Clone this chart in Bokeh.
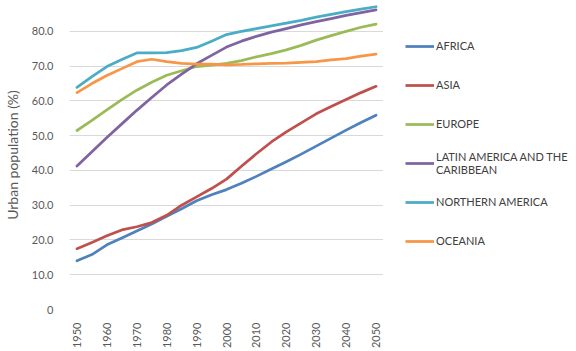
import math
from bokeh.plotting import figure
from bokeh.layouts import row
from bokeh.models import Legend, LegendItem, Range1d, FixedTicker
from bokeh.embed import file_html
from bokeh.resources import INLINE

years = [1950, 1955, 1960, 1965, 1970, 1975, 1980, 1985, 1990, 1995, 2000,
         2005, 2010, 2015, 2020, 2025, 2030, 2035, 2040, 2045, 2050]

africa = [14.0, 15.8, 18.6, 20.6, 22.6, 24.6, 26.8, 29.0, 31.3, 33.0, 34.5,
          36.3, 38.3, 40.4, 42.5, 44.7, 47.0, 49.3, 51.6, 53.8, 55.9]
asia = [17.5, 19.3, 21.2, 22.9, 23.8, 25.0, 27.1, 30.0, 32.4, 34.8, 37.5,
        41.2, 44.8, 48.2, 51.1, 53.7, 56.3, 58.4, 60.4, 62.4, 64.2]
europe = [51.5, 54.4, 57.4, 60.4, 63.1, 65.4, 67.4, 68.7, 69.9, 70.3, 70.8,
          71.6, 72.7, 73.6, 74.7, 76.0, 77.5, 78.8, 80.0, 81.2, 82.1]
latin = [41.3, 45.4, 49.5, 53.4, 57.3, 61.0, 64.6, 67.7, 70.7, 73.1, 75.5,
         77.2, 78.6, 79.8, 80.8, 81.9, 82.8, 83.7, 84.6, 85.4, 86.2]
northern = [63.9, 67.0, 69.9, 71.9, 73.8, 73.8, 73.9, 74.5, 75.4, 77.2, 79.1,
            80.0, 80.8, 81.6, 82.4, 83.2, 84.1, 84.9, 85.7, 86.4, 87.1]
oceania = [62.4, 65.0, 67.3, 69.3, 71.3, 72.0, 71.3, 70.8, 70.6, 70.6, 70.4,
           70.5, 70.7, 70.8, 70.9, 71.1, 71.3, 71.8, 72.2, 72.9, 73.5]

series_names = ["AFRICA", "ASIA", "EUROPE", "LATIN AMERICA AND THE\nCARIBBEAN",
                "NORTHERN AMERICA", "OCEANIA"]
series_values = [africa, asia, europe, latin, northern, oceania]
colors = ["#4F81BD", "#C0504D", "#9BBB59", "#8064A2", "#4BACC6", "#F79646"]

x_ticks = [1950, 1960, 1970, 1980, 1990, 2000, 2010, 2020, 2030, 2040, 2050]
y_ticks = [0, 10, 20, 30, 40, 50, 60, 70, 80, 90]
y_tick_labels = {0: "0", 10: "10.0", 20: "20.0", 30: "30.0", 40: "40.0",
                 50: "50.0", 60: "60.0", 70: "70.0", 80: "80.0", 90: "90.0"}

FONT = "Lato"
LINE_W = 2.75

# ---- main chart ----
p = figure(width=383, height=351, output_backend="svg", toolbar_location=None,
           x_range=Range1d(1947.5, 2052.5), y_range=Range1d(0, 88.9),
           min_border_left=65, min_border_right=0, min_border_top=0,
           min_border_bottom=38)
p.outline_line_color = None

for vals, col in zip(series_values, colors):
    p.line(years, vals, line_color=col, line_width=LINE_W, line_join="round",
           line_cap="round")

p.xgrid.grid_line_color = None
p.ygrid.grid_line_color = "#D9D9D9"
p.ygrid.grid_line_width = 1
p.ygrid.ticker = FixedTicker(ticks=y_ticks)

p.xaxis.ticker = FixedTicker(ticks=x_ticks)
p.xaxis.major_label_orientation = math.pi / 2
p.xaxis.axis_line_color = None
p.xaxis.major_tick_line_color = None
p.xaxis.minor_tick_line_color = None
p.xaxis.major_label_standoff = 7
p.xaxis.major_label_text_font = FONT
p.xaxis.major_label_text_font_size = "11px"
p.xaxis.major_label_text_color = "#595959"

p.yaxis.ticker = FixedTicker(ticks=y_ticks)
p.yaxis.major_label_overrides = y_tick_labels
p.yaxis.axis_line_color = None
p.yaxis.major_tick_line_color = None
p.yaxis.minor_tick_line_color = None
p.yaxis.major_label_standoff = 10
p.yaxis.major_label_text_font = FONT
p.yaxis.major_label_text_font_size = "11px"
p.yaxis.major_label_text_color = "#595959"
p.yaxis.axis_label = "Urban population (%)"
p.yaxis.axis_label_text_font = FONT
p.yaxis.axis_label_text_font_style = "normal"
p.yaxis.axis_label_text_font_size = "14px"
p.yaxis.axis_label_text_color = "#595959"
p.yaxis.axis_label_standoff = 8

# ---- legend panel (same series, ranges chosen so only the legend shows) ----
q = figure(width=193, height=351, output_backend="svg", toolbar_location=None,
           x_range=Range1d(0, 1), y_range=Range1d(0, 1),
           x_axis_type=None, y_axis_type=None,
           min_border_left=0, min_border_right=0, min_border_top=0,
           min_border_bottom=0)
q.outline_line_color = None
q.grid.visible = False

items = []
for name, vals, col in zip(series_names, series_values, colors):
    r = q.line(years, vals, line_color=col, line_width=LINE_W)
    items.append(LegendItem(label=name, renderers=[r]))

legend = Legend(items=items, location=(22, 49))
legend.padding = 0
legend.margin = 0
legend.spacing = 0
legend.border_line_color = None
legend.background_fill_alpha = 0
legend.glyph_width = 29
legend.glyph_height = 20
legend.label_height = 39
legend.label_standoff = 2
legend.label_text_font = FONT
legend.label_text_font_size = "11px"
legend.label_text_color = "#404040"
q.add_layout(legend, "center")

layout = row(p, q, spacing=0)
open("out.html", "w").write(file_html(layout, INLINE))
